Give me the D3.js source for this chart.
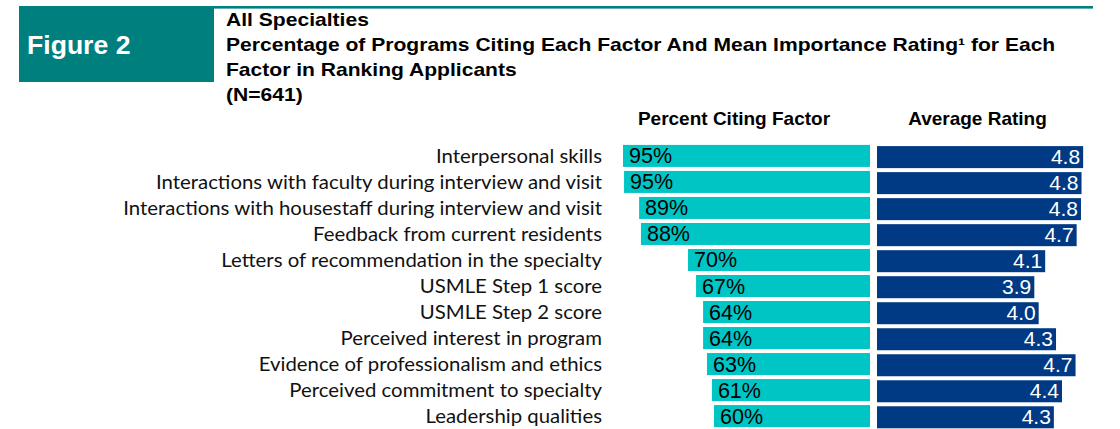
<!DOCTYPE html>
<html><head><meta charset="utf-8">
<script src="https://cdn.jsdelivr.net/npm/d3@7"></script>
<style>
html,body{margin:0;padding:0;background:#fff;}
svg{display:block;}
</style>
</head><body>
<svg id="c" width="1120" height="429"></svg>
<script>
const categories = [
  "Interpersonal skills",
  "Interactions with faculty during interview and visit",
  "Interactions with housestaff during interview and visit",
  "Feedback from current residents",
  "Letters of recommendation in the specialty",
  "USMLE Step 1 score",
  "USMLE Step 2 score",
  "Perceived interest in program",
  "Evidence of professionalism and ethics",
  "Perceived commitment to specialty",
  "Leadership qualities"
];
const percentCiting = [95.0, 94.6, 88.8, 88.1, 70.0, 66.9, 64.2, 64.2, 62.7, 60.8, 60.0];
const averageRating = [4.80, 4.77, 4.76, 4.68, 4.10, 3.90, 3.98, 4.30, 4.66, 4.41, 4.26];
const titleLines = [
  "All Specialties",
  "Percentage of Programs Citing Each Factor And Mean Importance Rating\u00B9 for Each",
  "Factor in Ranking Applicants",
  "(N=641)"
];
const figureLabel = "Figure 2";
const columnHeaders = ["Percent Citing Factor", "Average Rating"];

const svg = d3.select("#c");
const TEAL = "#007f7f", CYAN = "#00c5c5", NAVY = "#003a84";
const ARIAL = "Liberation Sans, Arial, sans-serif";

// Header
svg.append("rect").attr("x", 19).attr("y", 6).attr("width", 195).attr("height", 76).attr("fill", TEAL);
svg.append("rect").attr("x", 214).attr("y", 6).attr("width", 879).attr("height", 2.6).attr("fill", TEAL);
svg.append("text").attr("x", 27).attr("y", 54).text(figureLabel)
  .attr("fill", "#fff").attr("font-family", ARIAL)
  .attr("font-weight", "bold").attr("font-size", 26.6);

const titleG = svg.append("g");
const titleT = titleG.selectAll("text.title").data(titleLines).join("text").attr("class", "title")
  .attr("x", 0).attr("y", (d, i) => 26.5 + i * 25)
  .attr("font-family", ARIAL).attr("font-weight", "bold")
  .attr("font-size", 17.5).attr("fill", "#000").text(d => d);
const titleW = titleT.nodes()[1].getComputedTextLength();
titleG.attr("transform", `translate(226,0) scale(${830 / titleW},1)`);

// Scales
const y = d3.scaleBand().domain(categories).range([140.9, 431.1]).paddingInner(0.154).paddingOuter(0.154);
const xP = d3.scaleLinear().domain([0, 100]).range([870, 610]);
const xR = d3.scaleLinear().domain([1, 5]).range([877, 1094]);

// Column headers
svg.selectAll("text.colh").data(columnHeaders).join("text").attr("class", "colh")
  .attr("x", (d, i) => i === 0 ? 734 : 977.5).attr("y", 125)
  .attr("text-anchor", "middle")
  .attr("font-family", ARIAL).attr("font-weight", "bold")
  .attr("font-size", 19).attr("fill", "#000").text(d => d);

const rows = categories.map((c, i) => ({ c, p: percentCiting[i], r: averageRating[i] }));

// Category labels
const catG = svg.append("g");
const catT = catG.selectAll("text.cat").data(rows).join("text").attr("class", "cat")
  .attr("x", 0).attr("y", d => y(d.c) + y.bandwidth() / 2 + 7)
  .attr("text-anchor", "end").attr("font-family", "Lato, sans-serif")
  .attr("font-size", 18.5).attr("fill", "#111").text(d => d.c);
const catW = catT.nodes()[2].getComputedTextLength();
catG.attr("transform", `translate(602,0) scale(${479 / catW},1)`);

// Percent bars
svg.selectAll("rect.pb").data(rows).join("rect").attr("class", "pb")
  .attr("x", d => xP(d.p)).attr("y", d => y(d.c))
  .attr("width", d => xP(0) - xP(d.p)).attr("height", y.bandwidth())
  .attr("fill", CYAN);
svg.selectAll("text.pl").data(rows).join("text").attr("class", "pl")
  .attr("x", d => xP(d.p) + 6).attr("y", d => y(d.c) + y.bandwidth() / 2 + 7.5)
  .attr("font-family", ARIAL).attr("font-size", 21.5)
  .attr("fill", "#000").text(d => Math.round(d.p) + "%");

// Rating bars
svg.selectAll("rect.rb").data(rows).join("rect").attr("class", "rb")
  .attr("x", xR(1)).attr("y", d => y(d.c) + 1.2)
  .attr("width", d => xR(d.r) - xR(1)).attr("height", y.bandwidth())
  .attr("fill", NAVY);
svg.selectAll("text.rl").data(rows).join("text").attr("class", "rl")
  .attr("x", d => xR(d.r) - 3).attr("y", d => y(d.c) + 1.2 + y.bandwidth() / 2 + 7)
  .attr("text-anchor", "end")
  .attr("font-family", ARIAL).attr("font-size", 21)
  .attr("fill", "#fff").text(d => d.r.toFixed(1));
</script>
</body></html>
